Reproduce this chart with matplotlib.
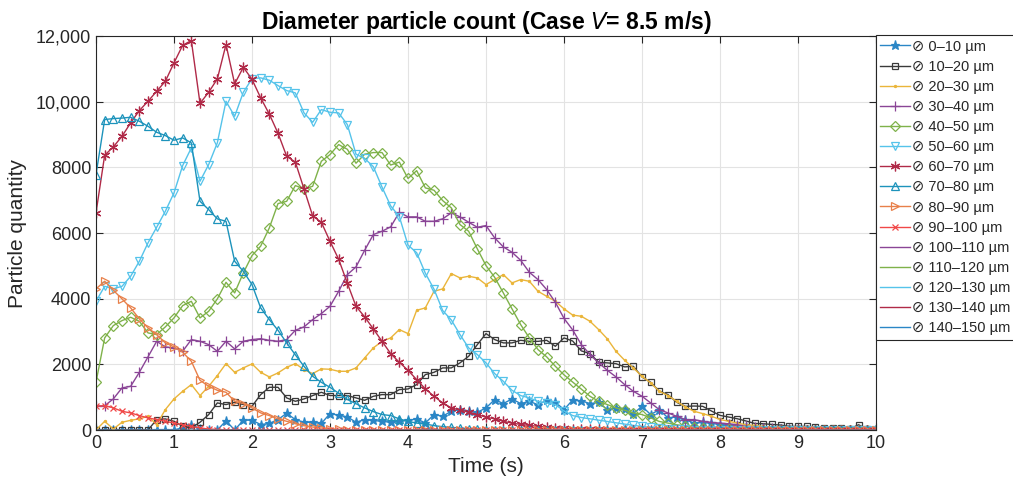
import numpy as np
import matplotlib
matplotlib.use('Agg')
import matplotlib.pyplot as plt

plt.rcParams['font.family'] = ['Liberation Sans', 'DejaVu Sans']

# sample times (91 samples, 0..10 s)
time = np.linspace(0, 10, 91)

d0_10 = [0, 0, 0, 0, 0, 0, 0, 0, 0, 0,
         70, 165, 40, 0, 0, 280, 0, 300, 300, 165,
         200, 317, 510, 317, 235, 235, 200, 500, 450, 400,
         235, 317, 290, 265, 235, 265, 290, 338, 216, 469,
         420, 570, 621, 570, 540, 673, 926, 804, 947, 804,
         874, 770, 900, 850, 620, 915, 890, 804, 840, 621,
         673, 650, 500, 722, 470, 621, 368, 400, 317, 210,
         230, 210, 160, 130, 110, 90, 60, 50, 40, 30,
         20, 15, 10, 5, 0, 0, 0, 0, 0, 0, 0]
d10_20 = [0, 0, 0, 0, 0, 0, 0, 317, 338, 265,
          113, 64, 235, 469, 825, 774, 844, 774, 722, 1078,
          1301, 1301, 978, 874, 947, 1048, 1149, 1050, 1050, 1048,
          978, 905, 1027, 1078, 1078, 1230, 1250, 1383, 1687, 1757,
          1891, 1891, 2044, 2246, 2601, 2936, 2754, 2653, 2653, 2732,
          2700, 2700, 2732, 2550, 2805, 2710, 2410, 2327, 2062, 2044,
          2020, 1922, 1940, 1617, 1453, 1179, 1078, 844, 720, 730,
          722, 580, 445, 395, 342, 275, 200, 190, 170, 150,
          110, 110, 110, 90, 70, 60, 50, 40, 160, 20, 0]
d20_30 = [0, 265, 30, 235, 295, 340, 417, 165, 621, 947,
          1179, 1383, 1048, 1331, 1657, 2022, 1757, 1891, 2013, 1757,
          1617, 1739, 1910, 2022, 1840, 1718, 1861, 1850, 1788, 1788,
          1891, 2196, 2500, 2702, 2805, 3058, 2936, 3646, 3719, 4225,
          4298, 4764, 4632, 4682, 4632, 4429, 4581, 4733, 4480, 4581,
          4530, 4225, 4072, 3920, 3690, 3500, 3463, 3311, 3058, 2775,
          2397, 2123, 1891, 1636, 1435, 1179, 1048, 874, 703, 570,
          500, 420, 320, 265, 210, 160, 140, 110, 90, 70,
          50, 40, 30, 20, 15, 10, 5, 0, 0, 0, 0]
d30_40 = [722, 740, 947, 1282, 1331, 1757, 2227, 2702, 2531, 2500,
          2397, 2754, 2702, 2601, 2397, 2702, 2470, 2702, 2754, 2780,
          2730, 2702, 2754, 3037, 3140, 3363, 3546, 3768, 4225, 4733,
          4967, 5474, 5952, 6053, 6187, 6632, 6491, 6491, 6357, 6357,
          6430, 6613, 6491, 6327, 6175, 6226, 5851, 5577, 5413, 5169,
          4804, 4581, 4277, 3890, 3400, 3048, 2601, 2297, 2044, 1818,
          1617, 1383, 1179, 1027, 825, 621, 520, 417, 317, 317,
          265, 230, 210, 190, 160, 110, 90, 70, 50, 40,
          30, 20, 15, 10, 5, 0, 0, 0, 0, 0, 0]
d40_50 = [1453, 2805, 3180, 3332, 3433, 3311, 2957, 2906, 3140, 3414,
          3789, 3920, 3414, 3616, 3993, 4499, 4176, 4785, 5312, 5600,
          6156, 6896, 6966, 7444, 7344, 7423, 8185, 8388, 8693, 8550,
          8125, 8400, 8450, 8450, 8070, 8160, 7660, 7900, 7374, 7302,
          6988, 6765, 6257, 6053, 5516, 5008, 4650, 4175, 3690, 3210,
          2805, 2449, 2227, 1940, 1680, 1460, 1245, 1027, 874, 774,
          673, 600, 520, 470, 370, 260, 210, 160, 120, 90,
          60, 40, 30, 20, 10, 0, 0, 0, 0, 0,
          0, 0, 0, 0, 0, 0, 0, 0, 0, 0, 0]
d50_60 = [3920, 4377, 4300, 4377, 4682, 5139, 5699, 6175, 6662, 7222,
          8054, 8593, 7576, 8084, 8745, 10012, 9555, 10286, 10700, 10725,
          10652, 10490, 10338, 10267, 9658, 9372, 9759, 9677, 9658, 9302,
          8400, 8270, 8020, 7400, 6825, 6500, 5630, 5400, 4775, 4290,
          3640, 3350, 2906, 2500, 2297, 2044, 1718, 1483, 1209, 1048,
          978, 874, 825, 774, 580, 440, 380, 340, 300, 260,
          220, 180, 140, 110, 80, 60, 40, 30, 20, 10,
          5, 0, 0, 0, 0, 0, 0, 0, 0, 0,
          0, 0, 0, 0, 0, 0, 0, 0, 0, 0, 0]
d60_70 = [6613, 8368, 8623, 8946, 9354, 9729, 10012, 10317, 10621, 11182,
          11718, 11861, 9950, 10286, 10694, 11740, 10542, 11048, 10680, 10116,
          9620, 9040, 8337, 8160, 7344, 6520, 6327, 5748, 5200, 4470,
          3768, 3445, 3079, 2702, 2327, 2062, 1818, 1535, 1252, 1027,
          825, 673, 610, 540, 470, 390, 340, 265, 210, 170,
          140, 110, 90, 70, 55, 45, 35, 25, 20, 15,
          10, 5, 0, 0, 0, 0, 0, 0, 0, 0,
          0, 0, 0, 0, 0, 0, 0, 0, 0, 0,
          0, 0, 0, 0, 0, 0, 0, 0, 0, 0, 0]
d70_80 = [7780, 9455, 9485, 9500, 9525, 9403, 9251, 9068, 8967, 8825,
          8896, 8745, 6966, 6713, 6430, 6357, 5139, 4834, 4429, 3719,
          3363, 3037, 2653, 2290, 1940, 1636, 1453, 1300, 1120, 930,
          800, 673, 560, 470, 440, 338, 265, 210, 180, 134,
          100, 80, 60, 40, 25, 15, 10, 5, 0, 0] + [0] * 41
d80_90 = [4298, 4530, 4256, 3993, 3719, 3384, 3110, 2906, 2653, 2531,
          2367, 2093, 1514, 1331, 1209, 1149, 874, 804, 673, 520,
          440, 338, 265, 190, 130, 90, 60, 40, 20, 10,
          5] + [0] * 60
d90_100 = [722, 740, 673, 570, 520, 440, 368, 317, 265, 210,
           160, 110, 60, 30, 15, 5] + [0] * 75
d100_150 = [0] * 91   # 100-150 um bins stay at zero

labels = ['0–10', '10–20', '20–30', '30–40', '40–50', '50–60', '60–70',
          '70–80', '80–90', '90–100', '100–110', '110–120', '120–130',
          '130–140', '140–150']
series = [d0_10, d10_20, d20_30, d30_40, d40_50, d50_60, d60_70,
          d70_80, d80_90, d90_100, d100_150, d100_150, d100_150,
          d100_150, d100_150]

colors = ['#2a86c6', '#3a3a3a', '#eab53a', '#8a4596', '#7fb24a', '#55c3ea',
          '#b02a48', '#1d93bb', '#e8804a', '#f04848',
          '#8a4596', '#7fb24a', '#55c3ea', '#b02a48', '#2a86c6']
markers = ['*', 's', '.', '+', 'D', 'v', (6, 2, 0), '^', '>', 'x',
           None, None, None, None, None]
msizes = [6.5, 5, 3, 7, 5, 6, 7, 6, 6, 5, 0, 0, 0, 0, 0]
filled = [True, False, True, True, False, False, True, False, False, True,
          True, True, True, True, True]

fig, ax = plt.subplots(figsize=(10.13, 4.9), dpi=100)
fig.subplots_adjust(left=96/1013, right=876/1013, bottom=60/490, top=454/490)

handles = []
for vals, c, m, ms, f, lab in zip(series, colors, markers, msizes, filled, labels):
    h, = ax.plot(time, vals, color=c, lw=1.0, marker=m, markersize=ms,
                 markerfacecolor=(c if f else 'none'), markeredgecolor=c,
                 markeredgewidth=0.9, label='⊘ ' + lab + ' µm')
    handles.append(h)

ax.set_xlim(0, 10)
ax.set_ylim(0, 12000)
ax.set_xticks(range(0, 11))
ax.set_yticks([0, 2000, 4000, 6000, 8000, 10000, 12000])
ax.set_yticklabels(['0', '2000', '4000', '6000', '8000', '10,000', '12,000'])
ax.tick_params(direction='in', top=True, right=True, length=5,
               labelsize=13, colors='#262626')
ax.grid(True, color='#e3e3e3', lw=0.8)
ax.set_axisbelow(True)
for s in ax.spines.values():
    s.set_color('#262626')
    s.set_linewidth(0.8)

ax.set_xlabel('Time (s)', fontsize=15, color='#262626', labelpad=4)
ax.set_ylabel('Particle quantity', fontsize=15, color='#262626', labelpad=6)
ax.set_title(r'Diameter particle count (Case $\it{V}$= 8.5 m/s)',
             fontsize=16.5, fontweight='bold', pad=5)

leg = ax.legend(handles=handles, loc='upper left', bbox_to_anchor=(1.0, 1.002),
                borderaxespad=0, fontsize=10.5, labelspacing=0.42,
                handlelength=2.0, handletextpad=0.15, borderpad=0.3,
                fancybox=False, framealpha=1, edgecolor='#262626')
leg.get_frame().set_linewidth(0.8)
for t in leg.get_texts():
    t.set_color('#262626')

fig.savefig('out.png', dpi=100)
